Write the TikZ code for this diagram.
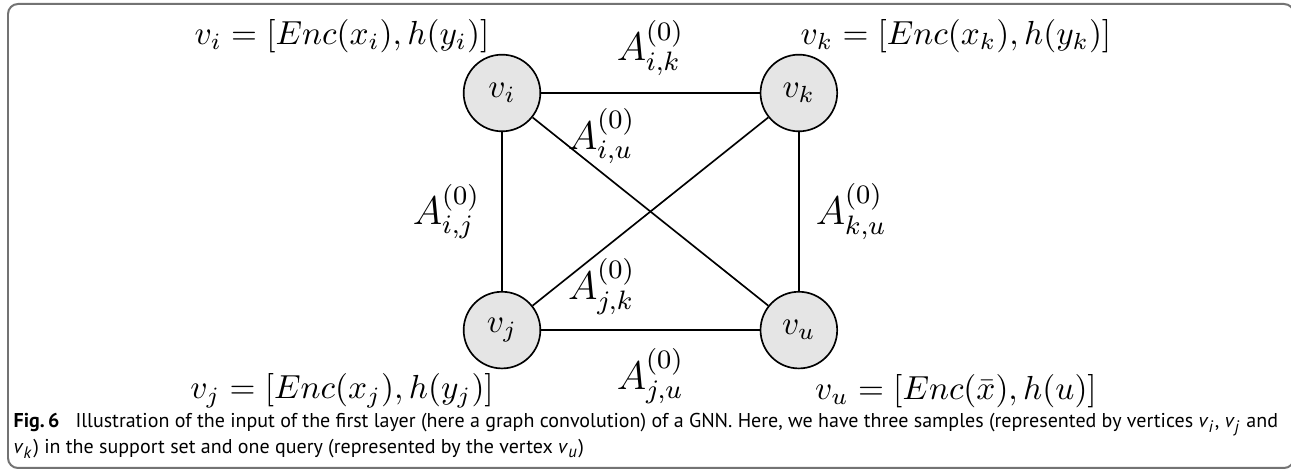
\documentclass[tikz,border=0pt]{standalone}
\usepackage{fontspec}
\newfontfamily\capfont{PT Sans}
\usetikzlibrary{positioning}

\begin{document}
\begin{tikzpicture}[
  x=0.3pt, y=-0.3pt,
  on grid, node distance=2.5cm and 3.13cm,
  vertex/.style={circle, draw, fill=gray!20, line width=0.5pt, minimum size=23pt, inner sep=0pt},
  link/.style={line width=0.5pt},
  weight/.style={font=\large},
  captext/.style={anchor=base west, inner sep=0pt, font=\capfont\fontsize{6}{8}\selectfont}
]
\useasboundingbox (0,0) rectangle (1291,472);
\draw[black!55, line width=0.6pt, rounded corners=3pt] (8,4) rectangle (1294,468);

\node[vertex] (vi) at (502,93) {$v_i$};
\node[vertex, right=of vi] (vk) {$v_k$};
\node[vertex, below=of vi] (vj) {$v_j$};
\node[vertex, below=of vk] (vu) {$v_u$};

% features of the vertices
\node (fi) at (342,36.5) {$v_i = [Enc(x_i), h(y_i)]$};
\node (fk) at (956,36.5) {$v_k = [Enc(x_k), h(y_k)]$};
\node (fj) at (342,391) {$v_j = [Enc(x_j), h(y_j)]$};
\node (fu) at (956,391) {$v_u = [Enc(\bar{x}), h(u)]$};

\draw[link] (vi) -- node[weight, above=1.5pt] {$A^{(0)}_{i,k}$} (vk);
\draw[link] (vj) -- node[weight, below=2pt] {$A^{(0)}_{j,u}$} (vu);
\draw[link] (vi) -- node[weight, left=3pt] {$A^{(0)}_{i,j}$} (vj);
\draw[link] (vk) -- node[weight, right=1.5pt] {$A^{(0)}_{k,u}$} (vu);
\draw[link] (vi) -- node[weight, pos=0.1, right] {$A^{(0)}_{i,u}$} (vu);
\draw[link] (vj) -- node[weight, pos=0.1, right] {$A^{(0)}_{j,k}$} (vk);

% caption
\node[captext] (cap1) at (13,428) {\textbf{Fig.\,6}\hspace{0.8em}Illustration of the input of the first layer (here a graph convolution) of a GNN. Here, we have three samples (represented by vertices \textit{v}\textsubscript{\textit{i}}, \textit{v}\textsubscript{\textit{j}} and};
\node[captext] (cap2) at (13,454) {\textit{v}\textsubscript{\textit{k}}) in the support set and one query (represented by the vertex \textit{v}\textsubscript{\textit{u}})};
\end{tikzpicture}
\end{document}
